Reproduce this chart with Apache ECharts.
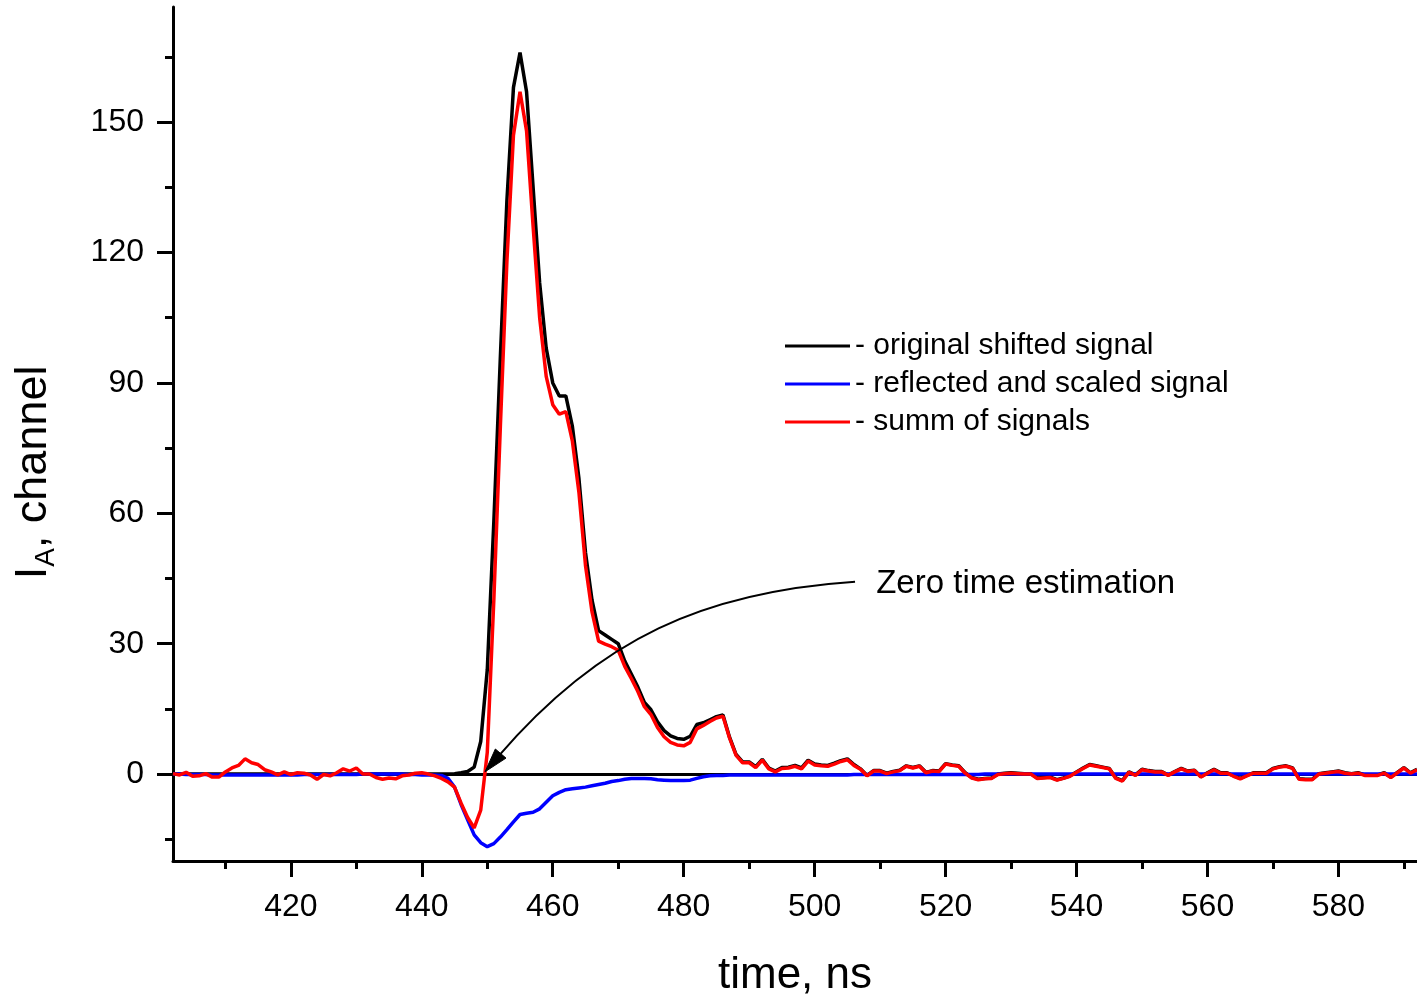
<!DOCTYPE html>
<html>
<head>
<meta charset="utf-8">
<script src="https://cdn.jsdelivr.net/npm/echarts@6/dist/echarts.min.js"></script>
<style>
html,body{margin:0;padding:0;background:#fff;}
#chart{width:1417px;height:1000px;}
</style>
</head>
<body>
<div id="chart"></div>
<script>
const FONT = '"Liberation Sans", Arial, Helvetica, sans-serif';

// ---- axes ----
const timeStart = 402;
const timeEnd = 592;
const yMin = -20;
const yMax = 176.5;
const xMajorTicks = [420, 440, 460, 480, 500, 520, 540, 560, 580];
const xMinorTicks = [410, 430, 450, 470, 490, 510, 530, 550, 570, 590];
const yMajorTicks = [0, 30, 60, 90, 120, 150];
const yMinorTicks = [-15, 15, 45, 75, 105, 135, 165];

// ---- series (one sample per ns, 402 .. 592) ----
const seriesNames = ['original shifted signal', 'reflected and scaled signal', 'summ of signals'];

const originalSignal = [
  0,0,0,0,0,0,0,0,0,0,
  0,0,0,0,0,0,0,0,0,0,
  0,0,0,0,0,0,0,0,0,0,
  0,0,0,0,0,0,0,0,0,0,
  0,0,0,0.1,
  0.3,0.6,1.6,7.5,24,58,96,132,158,166,
  157,135,113,98,90,87,87,80,68,51,
  40,33,32,31,30,26,23,20,16.5,14.8,
  12,10,8.8,8.2,8,8.7,11.4,11.8,12.5,13.2,
  13.6,8.5,4.5,2.8,2.8,1.7,3.4,1.4,0.7,1.5,
  1.6,2.0,1.4,3.2,2.3,2.1,2.0,2.5,3.1,3.5,
  2.2,1.2,-0.3,0.8,0.8,0.2,0.6,0.9,1.9,1.5,
  1.9,0.4,0.8,0.7,2.4,2.1,1.9,0.3,-0.8,-1.2,
  -1.0,-0.9,0.0,0.2,0.3,0.2,0.1,0.1,-0.9,-0.8,
  -0.7,-1.3,-0.9,-0.4,0.5,1.4,2.2,1.9,1.6,1.3,
  -0.9,-1.5,0.5,-0.2,1.1,0.8,0.6,0.6,-0.2,0.6,
  1.3,0.7,0.9,-0.6,0.3,1.1,0.3,0.3,-0.4,-1.0,
  -0.3,0.3,0.3,0.3,1.3,1.7,1.9,1.4,-1.1,-1.2,
  -1.2,0.1,0.3,0.5,0.7,0.3,0.1,0.3,-0.2,-0.2,
  -0.2,0.3,-0.7,0.4,1.5,0.3,1.1
];

const reflectedSignal = [
  0,0,-0.1,-0.1,-0.1,-0.1,-0.2,-0.2,-0.2,-0.2,
  -0.2,-0.2,-0.2,-0.2,-0.2,-0.2,-0.2,-0.2,-0.2,-0.2,
  -0.1,-0.1,-0.1,-0.1,-0.1,-0.1,-0.1,-0.1,-0.1,0,
  0,0,0,0,0,0,-0.1,-0.1,-0.2,-0.2,
  -0.2,-0.3,-1.0,-3.0,
  -7.0,-10.5,-14.0,-15.8,-16.7,-16.0,-14.5,-12.8,-11.0,-9.3,
  -9.0,-8.8,-8.0,-6.5,-5.0,-4.2,-3.6,-3.4,-3.2,-3.0,
  -2.7,-2.4,-2.1,-1.7,-1.5,-1.2,-1.0,-1.0,-1.0,-1.1,
  -1.3,-1.4,-1.5,-1.5,-1.5,-1.4,-1.0,-0.6,-0.4,-0.3,
  -0.3,-0.2,-0.2,-0.2,-0.2,-0.2,-0.2,-0.2,-0.2,-0.2,
  -0.2,-0.2,-0.2,-0.2,-0.2,-0.2,-0.2,-0.2,-0.2,-0.2,
  -0.1,-0.1,-0.1,-0.1,-0.1,-0.1,-0.1,-0.1,-0.1,-0.1,
  -0.1,-0.1,-0.1,-0.1,-0.1,-0.1,-0.1,-0.1,-0.1,-0.1,
  0,0,0,0,0,0,0,0,0,0,
  0,0,0,0,0,0,0,0,0,0,
  0,0,0,0,0,0,0,0,0,0,
  0,0,0,0,0,0,0,0,0,0,
  0,0,0,0,0,0,0,0,0,0,
  0,0,0,0,0,0,0,0,0,0,
  0,0,0,0,0,0,0
];

const summSignal = [
  0.1,-0.2,0.4,-0.5,-0.4,0.1,-0.7,-0.7,0.5,1.4,
  2.0,3.5,2.6,2.2,1.0,0.5,-0.2,0.5,-0.1,0.3,
  0.2,-0.2,-1.2,-0.1,-0.4,0.3,1.2,0.7,1.4,0,
  0,-0.8,-1.2,-0.9,-1.1,-0.4,-0.2,0.2,0.3,0,
  -0.4,-1.0,-1.8,-3.0,
  -6.7,-10,-12.4,-8.3,5,40,80,118,147,157,
  148,126,105,91.5,85,82.8,83.4,76.6,64.8,48,
  37.3,30.6,29.9,29.3,28.5,24.8,22,19,15.5,13.7,
  10.7,8.6,7.3,6.7,6.5,7.3,10.4,11.2,12.1,12.9,
  13.3,8.3,4.3,2.6,2.6,1.5,3.2,1.2,0.5,1.3,
  1.4,1.8,1.2,3.0,2.1,1.9,1.8,2.3,2.9,3.3,
  2.0,1.1,-0.4,0.7,0.7,0.1,0.5,0.8,1.8,1.4,
  1.8,0.3,0.7,0.6,2.3,2.0,1.8,0.2,-0.9,-1.3,
  -1.1,-1.0,-0.1,0.1,0.2,0.1,0,0,-1.0,-0.9,
  -0.8,-1.4,-1.0,-0.5,0.4,1.3,2.1,1.8,1.5,1.2,
  -1.0,-1.6,0.4,-0.3,1.0,0.7,0.5,0.5,-0.3,0.5,
  1.2,0.6,0.8,-0.7,0.2,1.0,0.2,0.2,-0.5,-1.1,
  -0.4,0.2,0.2,0.2,1.2,1.6,1.8,1.3,-1.2,-1.3,
  -1.3,0,0.2,0.4,0.6,0.2,0,0.2,-0.3,-0.3,
  -0.3,0.2,-0.8,0.3,1.4,0.2,1.0
];

// ---- annotation (data coordinates) ----
const annotationText = 'Zero time estimation';
const annotationTextAnchor = [509.4, 44.3];
const arrowCurve = [[506.17, 44.27], [483.26, 41.97], [467.22, 31.38], [449.66, 0.53]];

// sample times
const time = [];
for (let t = timeStart; t <= timeEnd; t++) time.push(t);
const pairs = arr => time.map((t, i) => [t, arr[i]]);

const chart = echarts.init(document.getElementById('chart'), null, {renderer: 'canvas'});

const axisLineStyle = {color: '#000', width: 3};
const labelStyle = {color: '#000', fontFamily: FONT, fontSize: 32};
const LW = 3.5;

const option = {
  animation: false,
  backgroundColor: '#fff',
  grid: {left: 173, top: 7, right: 0, bottom: 139, containLabel: false, outerBoundsMode: 'none'},
  legend: {
    show: true,
    selectedMode: false,
    orient: 'vertical',
    left: 780,
    top: 326,
    icon: 'rect',
    itemWidth: 65,
    itemHeight: 3,
    itemGap: 8,
    data: seriesNames,
    formatter: name => '- ' + name,
    textStyle: {color: '#000', fontFamily: FONT, fontSize: 30, lineHeight: 30}
  },
  xAxis: [
    {
      type: 'value', min: timeStart, max: timeEnd, position: 'bottom',
      axisLine: {show: true, onZero: false, lineStyle: axisLineStyle},
      axisTick: {show: true, inside: false, length: 16, customValues: xMajorTicks, lineStyle: axisLineStyle},
      axisLabel: Object.assign({show: true, margin: 30, customValues: xMajorTicks}, labelStyle),
      splitLine: {show: false},
      name: 'time, ns', nameLocation: 'middle', nameGap: 93,
      nameTextStyle: {color: '#000', fontFamily: FONT, fontSize: 44}
    },
    {
      type: 'value', min: timeStart, max: timeEnd, position: 'bottom', gridIndex: 0,
      axisLine: {show: false, onZero: false},
      axisTick: {show: true, inside: false, length: 8, customValues: xMinorTicks, lineStyle: axisLineStyle},
      axisLabel: {show: false},
      splitLine: {show: false}
    }
  ],
  yAxis: [
    {
      type: 'value', min: yMin, max: yMax, position: 'left',
      axisLine: {show: true, onZero: false, lineStyle: axisLineStyle},
      axisTick: {show: true, inside: false, length: 16, customValues: yMajorTicks, lineStyle: axisLineStyle},
      axisLabel: Object.assign({show: true, margin: 29, customValues: yMajorTicks}, labelStyle),
      splitLine: {show: false}
    },
    {
      type: 'value', min: yMin, max: yMax, position: 'left', gridIndex: 0,
      axisLine: {show: false, onZero: false},
      axisTick: {show: true, inside: false, length: 8, customValues: yMinorTicks, lineStyle: axisLineStyle},
      axisLabel: {show: false},
      splitLine: {show: false}
    }
  ],
  series: [
    {
      name: seriesNames[0], type: 'line', xAxisIndex: 0, yAxisIndex: 0,
      data: pairs(originalSignal), showSymbol: false, symbol: 'none', z: 3,
      lineStyle: {color: '#000000', width: LW}, itemStyle: {color: '#000000'},
      markLine: {
        silent: true, symbol: 'none', z: 2, animation: false,
        label: {show: false},
        lineStyle: {color: '#000', width: 3, type: 'solid'},
        data: [{yAxis: 0}]
      }
    },
    {
      name: seriesNames[1], type: 'line', xAxisIndex: 0, yAxisIndex: 0,
      data: pairs(reflectedSignal), showSymbol: false, symbol: 'none', z: 4,
      lineStyle: {color: '#0000ff', width: LW}, itemStyle: {color: '#0000ff'}
    },
    {
      name: seriesNames[2], type: 'line', xAxisIndex: 0, yAxisIndex: 0,
      data: pairs(summSignal), showSymbol: false, symbol: 'none', z: 5,
      lineStyle: {color: '#ff0000', width: LW}, itemStyle: {color: '#ff0000'}
    }
  ]
};
chart.setOption(option);

// annotation + y axis title, positioned through the chart's own coordinate system
function px(p) { return chart.convertToPixel({xAxisIndex: 0, yAxisIndex: 0}, p); }
const c = arrowCurve.map(px);
const tip = c[3];
const dx = c[3][0] - c[2][0], dy = c[3][1] - c[2][1];
const len = Math.sqrt(dx * dx + dy * dy);
const ux = dx / len, uy = dy / len;
const headLen = 24, headHalf = 7;
const bx = tip[0] - ux * headLen, by = tip[1] - uy * headLen;
const tAnchor = px(annotationTextAnchor);
const gridRect = chart.getModel().getComponent('grid').coordinateSystem.getRect();

chart.setOption({
  graphic: [
    {
      type: 'bezierCurve', silent: true, z: 10,
      shape: {x1: c[0][0], y1: c[0][1], cpx1: c[1][0], cpy1: c[1][1], cpx2: c[2][0], cpy2: c[2][1], x2: bx + ux * 4, y2: by + uy * 4},
      style: {stroke: '#000', lineWidth: 2, fill: null}
    },
    {
      type: 'polygon', silent: true, z: 10,
      shape: {points: [tip, [bx - uy * headHalf, by + ux * headHalf], [bx + uy * headHalf, by - ux * headHalf]]},
      style: {fill: '#000', stroke: '#000', lineWidth: 1}
    },
    {
      type: 'text', silent: true, z: 10,
      x: tAnchor[0], y: tAnchor[1] + 2,
      style: {text: annotationText, fill: '#000', font: '33px ' + FONT, align: 'left', verticalAlign: 'middle'}
    },
    {
      type: 'text', silent: true, z: 10,
      x: 34, y: gridRect.y + gridRect.height * 0.545,
      rotation: Math.PI / 2,
      style: {
        text: '{i|I}{s|A}{i|, channel}',
        align: 'center', verticalAlign: 'middle',
        rich: {
          i: {fontFamily: FONT, fontSize: 45, fill: '#000', lineHeight: 52, verticalAlign: 'middle'},
          s: {fontFamily: FONT, fontSize: 28, fill: '#000', lineHeight: 52, verticalAlign: 'bottom'}
        }
      }
    }
  ]
});
</script>
</body>
</html>
